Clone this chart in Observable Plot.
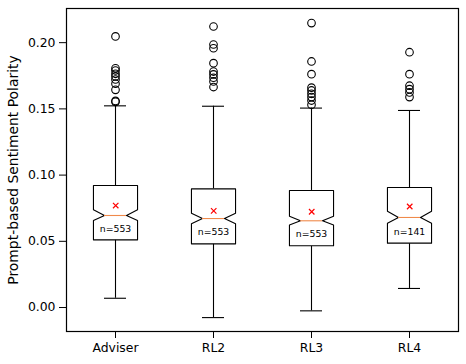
<!DOCTYPE html>
<html>
<head>
<meta charset="utf-8">
<script src="https://cdn.jsdelivr.net/npm/d3@7"></script>
<script src="https://cdn.jsdelivr.net/npm/@observablehq/plot@0.6"></script>
<style>
  html, body { margin: 0; padding: 0; background: #fff; }
  svg { font-family: "DejaVu Sans", sans-serif; }
  g[aria-label$="tick label"] { font-size: 12.4px; }
  g[aria-label="y-axis label"] { font-size: 13.9px; }
</style>
</head>
<body>
<div id="chart"></div>
<script>
const categories = ["Adviser", "RL2", "RL3", "RL4"];
const counts = [553, 553, 553, 141];
const whiskerLo = [0.0070, -0.0076, -0.0025, 0.0144];
const q1 = [0.0511, 0.0481, 0.0466, 0.0486];
const notchLo = [0.0657, 0.0632, 0.0624, 0.0637];
const medians = [0.0695, 0.0672, 0.0655, 0.0680];
const notchHi = [0.0738, 0.0712, 0.0690, 0.0727];
const q3 = [0.0921, 0.0896, 0.0884, 0.0906];
const whiskerHi = [0.1523, 0.1520, 0.1506, 0.1488];
const means = [0.0770, 0.0730, 0.0723, 0.0763];
const outliers = [
  [0.2047, 0.1807, 0.1790, 0.1765, 0.1745, 0.1722, 0.1690, 0.1644, 0.1560, 0.1553],
  [0.2122, 0.1986, 0.1958, 0.1845, 0.1782, 0.1760, 0.1735, 0.1707, 0.1665],
  [0.2148, 0.1858, 0.1762, 0.1660, 0.1639, 0.1614, 0.1589, 0.1563, 0.1531],
  [0.1928, 0.1762, 0.1675, 0.1649, 0.1624, 0.1589]
];
const yTicks = [0.00, 0.05, 0.10, 0.15, 0.20];

const halfBox = 0.225;   // half box width in category units
const halfNotch = halfBox / 2;

const pos = categories.map((c, i) => i + 1);

const boxPts = [];
categories.forEach((c, i) => {
  const x = pos[i];
  const pts = [
    [x - halfBox, q1[i]], [x - halfBox, notchLo[i]], [x - halfNotch, medians[i]],
    [x - halfBox, notchHi[i]], [x - halfBox, q3[i]], [x + halfBox, q3[i]],
    [x + halfBox, notchHi[i]], [x + halfNotch, medians[i]], [x + halfBox, notchLo[i]],
    [x + halfBox, q1[i]], [x - halfBox, q1[i]]
  ];
  pts.forEach(([px, py]) => boxPts.push({cat: c, x: px, y: py}));
});

const stats = categories.map((c, i) => ({
  cat: c, x: pos[i], n: counts[i], wlo: whiskerLo[i], q1: q1[i], med: medians[i],
  q3: q3[i], whi: whiskerHi[i], mean: means[i], nlo: notchLo[i]
}));
const outPts = [];
outliers.forEach((arr, i) => arr.forEach(v => outPts.push({x: pos[i], y: v})));

const chart = Plot.plot({
  width: 466,
  height: 364,
  marginLeft: 66,
  marginRight: 8,
  marginTop: 8,
  marginBottom: 33,
  style: {fontFamily: "DejaVu Sans, sans-serif", color: "#000", background: "#fff"},
  x: {domain: [0.5, 4.5], axis: null},
  y: {domain: [-0.0181, 0.2258], axis: null},
  marks: [
    Plot.axisX({ticks: pos, tickFormat: d => categories[d - 1], tickSize: 7, tickPadding: 4.5, label: null, stroke: "#000"}),
    Plot.axisY({ticks: yTicks, tickFormat: d3.format(".2f"), tickSize: 7, tickPadding: 4, label: "Prompt-based Sentiment Polarity", labelAnchor: "center", labelArrow: "none", labelOffset: 58, stroke: "#000"}),
    Plot.ruleX(stats, {x: "x", y1: "wlo", y2: "q1", stroke: "#000", strokeWidth: 1.1}),
    Plot.ruleX(stats, {x: "x", y1: "q3", y2: "whi", stroke: "#000", strokeWidth: 1.1}),
    Plot.ruleY(stats, {y: "wlo", x1: d => d.x - halfNotch, x2: d => d.x + halfNotch, stroke: "#000", strokeWidth: 1.1}),
    Plot.ruleY(stats, {y: "whi", x1: d => d.x - halfNotch, x2: d => d.x + halfNotch, stroke: "#000", strokeWidth: 1.1}),
    Plot.line(boxPts, {x: "x", y: "y", z: "cat", fill: "#fff", stroke: "#000", strokeWidth: 1.1, curve: "linear"}),
    Plot.ruleY(stats, {y: "med", x1: d => d.x - halfNotch, x2: d => d.x + halfNotch, stroke: "#f08a4b", strokeWidth: 1.1}),
    Plot.dot(stats, {x: d => d.x + 0.002, y: "mean", symbol: "times", r: 2.6, stroke: "#ff0000", strokeWidth: 1.2}),
    Plot.text(stats, {x: "x", y: d => (d.nlo + d.q1) / 2, text: d => `n=${d.n}`, fontSize: 9.3, fill: "#000", dy: -1.5}),
    Plot.dot(outPts, {x: "x", y: "y", r: 3.8, stroke: "#000", strokeWidth: 1.1, fill: "none"}),
    Plot.frame({stroke: "#000", strokeWidth: 1.2})
  ]
});
document.getElementById("chart").appendChild(chart);
</script>
</body>
</html>
